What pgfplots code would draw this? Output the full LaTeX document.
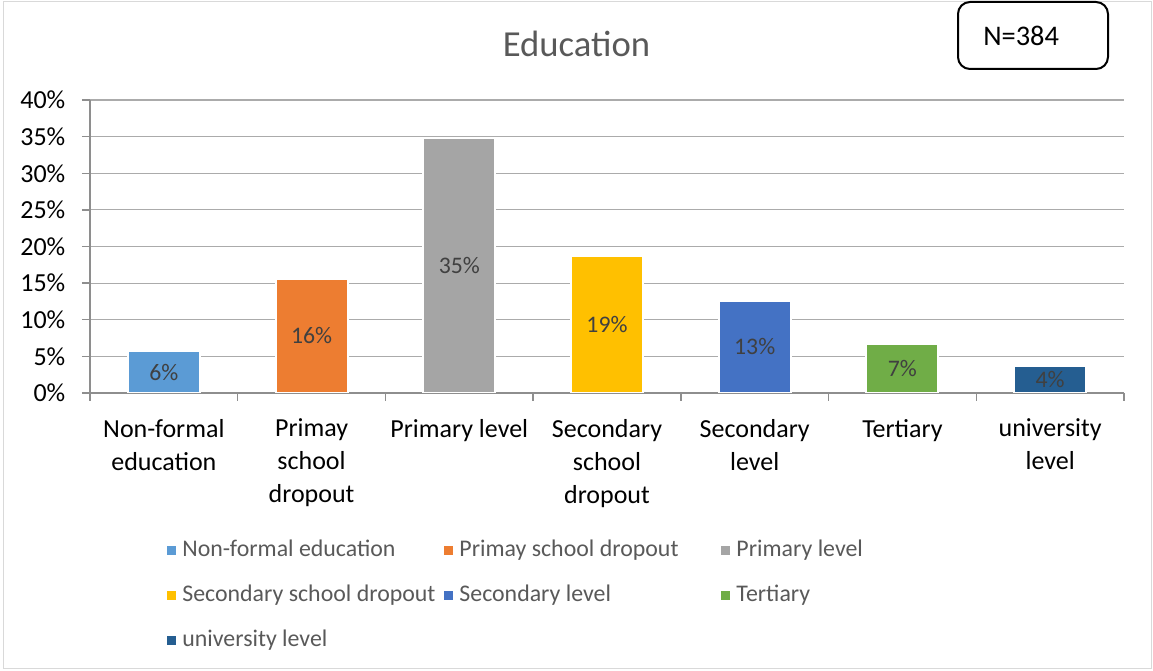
\documentclass[border=0pt]{standalone}
\usepackage{pgfplots}
\pgfplotsset{compat=1.18}
\usepackage{fontspec}
\setmainfont{Carlito}
\definecolor{cA}{HTML}{5B9BD5}
\definecolor{cB}{HTML}{ED7D31}
\definecolor{cC}{HTML}{A5A5A5}
\definecolor{cD}{HTML}{FFC000}
\definecolor{cE}{HTML}{4472C4}
\definecolor{cF}{HTML}{70AD47}
\definecolor{cG}{HTML}{255E91}
\definecolor{axisgray}{HTML}{8E8E8E}
\definecolor{gridgray}{HTML}{ABABAB}
\definecolor{txtgray}{HTML}{595959}
\definecolor{lblgray}{HTML}{404040}
\definecolor{framegray}{HTML}{D9D9D9}
\newcommand{\legent}[1]{\makebox[197pt][l]{\hspace{2.5pt}#1}}
\begin{document}
\begin{tikzpicture}[x=0.75pt,y=0.75pt]
\path[use as bounding box] (0,0) rectangle (1153,671);
\draw[draw=framegray, line width=0.75pt] (3,2) rectangle (1151,669);
\begin{axis}[
  at={(67.5pt,208.5pt)}, anchor=south west,
  scale only axis, width=775.5pt, height=219.75pt,
  xmin=-0.5, xmax=6.5, ymin=0, ymax=40,
  axis x line*=bottom, axis y line*=left,
  axis line style={-, draw=axisgray, line width=1.3pt},
  tick align=outside,
  major tick length=6pt,
  tick style={draw=axisgray, line width=1pt},
  xtick={-0.5,0.5,1.5,2.5,3.5,4.5,5.5,6.5},
  xticklabels={},
  ytick={0,5,10,15,20,25,30,35,40},
  yticklabels={0\%,5\%,10\%,15\%,20\%,25\%,30\%,35\%,40\%},
  ymajorgrids,
  grid style={draw=gridgray, line width=0.9pt},
  extra x ticks={0,1,2,3,4,5,6},
  extra x tick labels={{Non-formal\\education},{Primay\\school\\dropout},{Primary level},{Secondary\\school\\dropout},{Secondary\\level},{Tertiary},{university\\level}},
  extra x tick style={major tick length=0pt, grid=none},
  ticklabel style={font=\fontsize{19.5}{24.75}\selectfont, text=black},
  xticklabel style={align=center, anchor=north, yshift=-16pt},
  yticklabel style={anchor=east, xshift=-9pt},
  legend columns=3,
  legend cell align=left,
  legend style={at={(0.0745,-0.49)}, anchor=north west, draw=none, fill=none,
    inner sep=0pt, font=\fontsize{17.9}{21}\selectfont, text=txtgray,
    row sep=12.5pt,
    nodes={text height=13pt, text depth=4pt}},
  legend image code/.code={\fill[#1, draw=none] (0pt,-3.4pt) rectangle (6.8pt,3.4pt);},
  every node near coord/.style={anchor=center, font=\fontsize{17.8}{20}\selectfont, text=lblgray},
]
\addplot[ybar, bar width=54pt, bar shift=0pt, fill=cA, draw=white, line width=1.5pt] coordinates {(0,5.7)};
\addlegendentry{\legent{Non-formal education}}
\addplot[ybar, bar width=54pt, bar shift=0pt, fill=cB, draw=white, line width=1.5pt] coordinates {(1,15.6)};
\addlegendentry{\legent{Primay school dropout}}
\addplot[ybar, bar width=54pt, bar shift=0pt, fill=cC, draw=white, line width=1.5pt] coordinates {(2,34.8)};
\addlegendentry{\legent{Primary level}}
\addplot[ybar, bar width=54pt, bar shift=0pt, fill=cD, draw=white, line width=1.5pt] coordinates {(3,18.7)};
\addlegendentry{\legent{Secondary school dropout}}
\addplot[ybar, bar width=54pt, bar shift=0pt, fill=cE, draw=white, line width=1.5pt] coordinates {(4,12.6)};
\addlegendentry{\legent{Secondary level}}
\addplot[ybar, bar width=54pt, bar shift=0pt, fill=cF, draw=white, line width=1.5pt] coordinates {(5,6.7)};
\addlegendentry{\legent{Tertiary}}
\addplot[ybar, bar width=54pt, bar shift=0pt, fill=cG, draw=white, line width=1.5pt] coordinates {(6,3.7)};
\addlegendentry{\legent{university level}}
\addplot[forget plot, draw=none, mark=none, nodes near coords, point meta=explicit symbolic]
  coordinates {(0,2.85)[6\%] (1,7.8)[16\%] (2,17.4)[35\%] (3,9.35)[19\%] (4,6.3)[13\%] (5,3.35)[7\%] (6,1.85)[4\%]};
\end{axis}
\node[text=txtgray, font=\fontsize{27.5}{33}\selectfont, anchor=base, inner sep=0pt] at (576.5,614) {Education};
\draw[black, line width=1.5pt, rounded corners=9] (958,602) rectangle (1108,669);
\node[font=\fontsize{21.3}{25}\selectfont, anchor=base west, inner sep=0pt] at (983,625) {N=384};
\end{tikzpicture}
\end{document}
